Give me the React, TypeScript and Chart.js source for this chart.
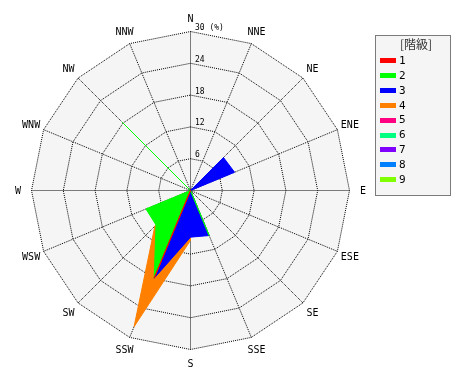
import React, { useEffect, useRef } from 'react';
import { Chart, registerables } from 'chart.js';

Chart.register(...registerables);

// 16 wind directions, clockwise from north
const directions = ['N', 'NNE', 'NE', 'ENE', 'E', 'ESE', 'SE', 'SSE', 'S', 'SSW', 'SW', 'WSW', 'W', 'WNW', 'NW', 'NNW'];

// class (階級) names and colours
const classLabels = ['1', '2', '3', '4', '5', '6', '7', '8', '9'];
const classColors = ['#ff0000', '#00ff00', '#0000ff', '#ff8000', '#ff0080', '#00ff80', '#8000ff', '#0080ff', '#80ff00'];

// frequency (%) per direction for each class
//                N  NNE  NE  ENE  E ESE SE  SSE   S    SSW   SW   WSW  W WNW  NW  NNW
const class1 = [0, 0, 0, 0, 0, 0, 0, 0, 0, 17.9, 0, 0, 0, 0, 0, 0];
const class2 = [0, 0, 0, 0, 0, 0, 0, 9.2, 0, 17.9, 9.2, 9.1, 0, 0, 18.2, 0];
const class3 = [0, 0, 8.8, 9.0, 0, 0, 0, 9.2, 8.8, 17.9, 0, 0, 0, 0, 0, 0];
const class4 = [0, 0, 0, 0, 0, 0, 0, 0, 9.4, 27.8, 9.5, 0, 0, 0, 0, 0];
const class5 = [0, 0, 0, 0, 0, 0, 0, 0, 0, 0, 0, 0, 0, 0, 0, 0];
const class6 = [0, 0, 0, 0, 0, 0, 0, 0, 0, 0, 0, 0, 0, 0, 0, 0];
const class7 = [0, 0, 0, 0, 0, 0, 0, 0, 0, 0, 0, 0, 0, 0, 0, 0];
const class8 = [0, 0, 0, 0, 0, 0, 0, 0, 0, 0, 0, 0, 0, 0, 0, 0];
const class9 = [0, 0, 0, 0, 0, 0, 0, 0, 0, 0, 0, 0, 0, 0, 0, 0];
const classValues = [class1, class2, class3, class4, class5, class6, class7, class8, class9];

// radial axis
const rMin = 0;
const rMax = 30;
const tickValues = [6, 12, 18, 24, 30];
const tickLabels = ['6', '12', '18', '24', '30 (%)'];
const legendTitle = '[階級]';

export default function App() {
  const ref = useRef<HTMLCanvasElement>(null);

  useEffect(() => {
    const canvas = ref.current;
    if (!canvas) return;

    const decor = {
      id: 'decor',
      beforeDraw(chart: any) {
        const ctx = chart.ctx;
        const scale = chart.scales.r;
        ctx.save();
        ctx.translate(0.5, 0.5);
        // plot background polygon
        ctx.beginPath();
        const n = chart.data.labels.length;
        for (let i = 0; i < n; i++) {
          const p = scale.getPointPosition(i, scale.drawingArea);
          if (i === 0) ctx.moveTo(p.x, p.y);
          else ctx.lineTo(p.x, p.y);
        }
        ctx.closePath();
        ctx.fillStyle = '#f5f5f5';
        ctx.fill();
      },
      afterDraw(chart: any) {
        const ctx = chart.ctx;
        const scale = chart.scales.r;
        // point labels
        ctx.fillStyle = '#000';
        ctx.font = '10px "DejaVu Sans Mono"';
        ctx.textAlign = 'center';
        ctx.textBaseline = 'middle';
        chart.data.labels.forEach((lab: string, i: number) => {
          const p = scale.getPointPosition(i, scale.drawingArea + 13.5);
          ctx.fillText(lab, p.x, p.y + 1);
        });
        // tick labels
        ctx.font = '8px "DejaVu Sans Mono"';
        ctx.textAlign = 'left';
        tickValues.forEach((v, i) => {
          const d = scale.getDistanceFromCenterForValue(v);
          ctx.fillText(tickLabels[i], scale.xCenter + 4.5, scale.yCenter - d - 3.5);
        });
        ctx.restore();

        // legend
        const lx = 375, ly = 35, lw = 76, lh = 161;
        ctx.save();
        ctx.fillStyle = '#f5f5f5';
        ctx.fillRect(lx, ly, lw, lh);
        ctx.strokeStyle = '#000';
        ctx.lineWidth = 1;
        ctx.setLineDash([1, 1]);
        ctx.strokeRect(lx + 0.5, ly + 0.5, lw - 1, lh - 1);
        ctx.setLineDash([]);
        ctx.fillStyle = '#333';
        ctx.font = '12px "Noto Sans CJK JP"';
        ctx.textAlign = 'center';
        ctx.textBaseline = 'middle';
        ctx.fillText(legendTitle, lx + 41, ly + 9.5);
        ctx.font = '11px "DejaVu Sans Mono"';
        ctx.textAlign = 'left';
        chart.data.datasets.forEach((ds: any, i: number) => {
          const cy = ly + 25.5 + i * 14.9;
          ctx.fillStyle = ds.backgroundColor;
          ctx.fillRect(lx + 5, Math.round(cy - 2.5), 16, 5);
          ctx.fillStyle = '#000';
          ctx.fillText(ds.label, lx + 24, cy + 0.5);
        });
        ctx.restore();
      },
    };

    const chart = new Chart(canvas, {
      type: 'radar',
      data: {
        labels: directions,
        datasets: classLabels.map((lab, i) => ({
          label: lab,
          data: classValues[i],
          backgroundColor: classColors[i],
          borderColor: classColors[i],
          borderWidth: 1,
          fill: true,
          pointRadius: 0,
          pointHoverRadius: 0,
        })),
      },
      options: {
        animation: false,
        responsive: false,
        devicePixelRatio: 1,
        layout: { padding: { left: 31, top: 31, right: 121, bottom: 31 } },
        plugins: {
          legend: { display: false },
          tooltip: { enabled: false },
        },
        scales: {
          r: {
            min: rMin,
            max: rMax,
            ticks: { display: false, stepSize: 6 },
            pointLabels: { display: false },
            grid: { color: '#000', lineWidth: 1 },
            border: { dash: [1, 1] },
            angleLines: { color: '#000', lineWidth: 1, borderDash: [1, 1] },
          },
        },
      } as any,
      plugins: [decor],
    });

    return () => chart.destroy();
  }, []);

  return (
    <div style={{ position: 'absolute', left: 0, top: 0, width: 470, height: 380, background: '#fff' }}>
      <canvas ref={ref} width={470} height={380} style={{ display: 'block' }} />
    </div>
  );
}
